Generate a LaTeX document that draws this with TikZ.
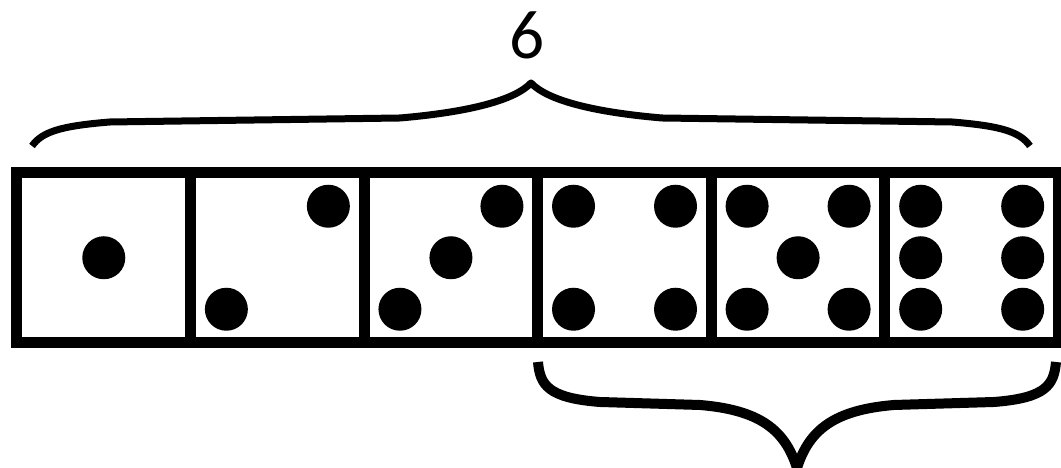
\documentclass[tikz,border=0pt]{standalone}
\usepackage{fontspec}
\newfontfamily\labelfont{Carlito}
\usetikzlibrary{calc}

\begin{document}
\begin{tikzpicture}[
  face/.style={draw,line width=.11cm,minimum width=1.7358cm,minimum height=1.705cm,inner sep=0pt,outer sep=0pt},
  bracepath/.style={line width=.07cm,line cap=butt,line join=round}]
\useasboundingbox (0,0) rectangle (10.61,4.68);
% six dice faces side by side
\foreach \i in {1,...,6}
  \node[face] (d\i) at ({0.17+(\i-0.5)*1.7358},2.1025) {};
% pips
\foreach \f/\dx/\dy in {1/0/0,
  2/.51/.515,2/-.51/-.515,
  3/.51/.515,3/0/0,3/-.51/-.515,
  4/-.51/.515,4/.51/.515,4/-.51/-.515,4/.51/-.515,
  5/-.51/.515,5/.51/.515,5/0/0,5/-.51/-.515,5/.51/-.515,
  6/-.51/.515,6/-.51/0,6/-.51/-.515,6/.51/.515,6/.51/0,6/.51/-.515}
  \fill ($(d\f)+(\dx,\dy)$) circle[radius=.215];
% brace over all six
\coordinate (top-l) at (0.32,3.22);
\coordinate (top-tip) at (5.31,3.85);
\coordinate (top-r) at (10.30,3.22);
\draw[bracepath] (top-l) .. controls (0.42,3.36) and (0.60,3.42) .. (1.10,3.46) -- (4.00,3.50)
  .. controls (4.70,3.56) and (5.15,3.68) .. (top-tip)
  .. controls (5.47,3.68) and (5.92,3.56) .. (6.62,3.50) -- (9.52,3.46)
  .. controls (10.02,3.42) and (10.20,3.36) .. (top-r);
\node[font=\labelfont\fontsize{19.7}{20}\selectfont,inner sep=0pt] (six) at (5.27,4.33) {6};
% brace under the last three
\coordinate (bot-l) at (5.38,1.06);
\coordinate (bot-tip) at (7.97,0.0);
\coordinate (bot-r) at (10.56,1.06);
\draw[bracepath,line width=.1cm] (bot-l) .. controls (5.40,0.83) and (5.48,0.70) .. (6.00,0.66) -- (7.00,0.63)
  .. controls (7.60,0.58) and (7.85,0.38) .. (bot-tip)
  .. controls (8.09,0.38) and (8.34,0.58) .. (8.94,0.63) -- (9.94,0.66)
  .. controls (10.46,0.70) and (10.54,0.83) .. (bot-r);
\end{tikzpicture}
\end{document}
